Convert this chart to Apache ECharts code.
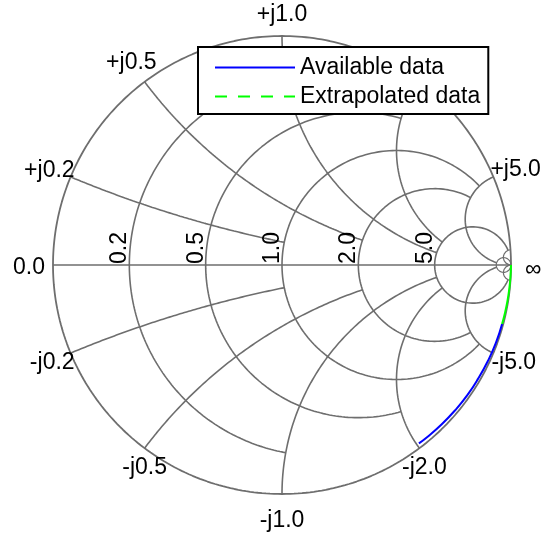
<!DOCTYPE html>
<html>
<head>
<meta charset="utf-8">
<script src="https://cdn.jsdelivr.net/npm/echarts@6/dist/echarts.min.js"></script>
<style>
  html, body { margin: 0; padding: 0; background: #ffffff; }
  #chart { width: 542px; height: 536px; }
</style>
</head>
<body>
<div id="chart"></div>
<script>
// Smith chart grid: each circle runs out to the paired limit of the other family
const resistanceValues = [0.2, 0.5, 1.0, 2.0, 5.0];
const resistanceLimits = [1.0, 2.0, 5.0, 5.0, 30];
const reactanceValues = [0.2, 0.5, 1.0, 2.0, 5.0];
const reactanceLimits = [1.0, 2.0, 5.0, 5.0, 30];
// Outermost limit circles drawn around the open-circuit point
const limitValue = 30;

// Reflection coefficient, magnitude and phase (degrees)
const availableMag      = [0.995, 0.994, 0.992, 0.990, 0.989, 0.987, 0.985, 0.983, 0.982];
const availablePhaseDeg = [-15.0, -20.0, -25.0, -30.0, -35.0, -40.0, -45.0, -50.0, -52.5];
const extrapolatedMag      = [1.000, 0.999, 0.998, 0.997, 0.996, 0.995];
const extrapolatedPhaseDeg = [0.0, -3.0, -6.0, -9.0, -12.0, -15.0];

const FONT = '"Liberation Sans", Arial, sans-serif';
const FONT_SIZE = 23;
const GRID_COLOR = '#6e6e6e';
const DASH = [12, 11];

function zToGamma(r, x) {
  const den = (r + 1) * (r + 1) + x * x;
  return [(r * r - 1 + x * x) / den, (2 * x) / den];
}

function resistanceCircle(r, xLimit) {
  const c = r / (1 + r), rho = 1 / (1 + r);
  let t0 = 0;
  if (isFinite(xLimit)) {
    const g = zToGamma(r, xLimit);
    t0 = Math.atan2(g[1], g[0] - c);
  }
  const t1 = 2 * Math.PI - t0;
  const n = 360, out = [];
  for (let i = 0; i <= n; i++) {
    const t = t0 + (t1 - t0) * i / n;
    out.push([c + rho * Math.cos(t), rho * Math.sin(t)]);
  }
  return out;
}

function reactanceArc(x, rLimit) {
  const cx = 1, cy = 1 / x, rho = 1 / Math.abs(x);
  const g0 = zToGamma(0, x);
  const g1 = isFinite(rLimit) ? zToGamma(rLimit, x) : [1, 0];
  const a0 = Math.atan2(g0[1] - cy, g0[0] - cx);
  const a1 = Math.atan2(g1[1] - cy, g1[0] - cx);
  let d = a1 - a0;
  while (d > Math.PI) d -= 2 * Math.PI;
  while (d <= -Math.PI) d += 2 * Math.PI;
  const n = 300, out = [];
  for (let i = 0; i <= n; i++) {
    const a = a0 + d * i / n;
    out.push([cx + rho * Math.cos(a), cy + rho * Math.sin(a)]);
  }
  return out;
}

function polarToXY(mag, phaseDeg) {
  return mag.map((m, i) => {
    const p = phaseDeg[i] * Math.PI / 180;
    return [m * Math.cos(p), m * Math.sin(p)];
  });
}

function gridSeries(data, width) {
  return {
    type: 'line', data: data, showSymbol: false, symbol: 'none', silent: true,
    clip: false, smooth: false, z: 2,
    lineStyle: { color: GRID_COLOR, width: width || 1.6 }
  };
}

const series = [];
series.push(gridSeries(resistanceCircle(0, Infinity), 1.8));
series.push(gridSeries([[-1, 0], [1, 0]]));
resistanceValues.forEach((r, i) => series.push(gridSeries(resistanceCircle(r, resistanceLimits[i]))));
reactanceValues.forEach((x, i) => {
  series.push(gridSeries(reactanceArc(x, reactanceLimits[i])));
  series.push(gridSeries(reactanceArc(-x, reactanceLimits[i])));
});
series.push(gridSeries(resistanceCircle(limitValue, Infinity), 1.2));
series.push(gridSeries(reactanceArc(limitValue, Infinity), 1.2));
series.push(gridSeries(reactanceArc(-limitValue, Infinity), 1.2));

series.push({
  name: 'Available data', type: 'line', data: polarToXY(availableMag, availablePhaseDeg),
  showSymbol: false, symbol: 'none', clip: false, z: 5, smooth: true,
  lineStyle: { color: '#0000ff', width: 2 }, itemStyle: { color: '#0000ff' }
});
// Densely sampled trace: the dash pattern fills in along the rim
series.push({
  name: 'Extrapolated data', type: 'line', data: polarToXY(extrapolatedMag, extrapolatedPhaseDeg),
  showSymbol: false, symbol: 'none', clip: false, z: 5, smooth: true,
  lineStyle: { color: '#00ff00', width: 2 }, itemStyle: { color: '#00ff00' }
});

const chart = echarts.init(document.getElementById('chart'));
chart.setOption({
  animation: false,
  backgroundColor: '#ffffff',
  grid: { left: 53, top: 36, width: 458, height: 458 },
  xAxis: { type: 'value', min: -1, max: 1, show: false },
  yAxis: { type: 'value', min: -1, max: 1, show: false },
  legend: {
    data: [
      { name: 'Available data' },
      { name: 'Extrapolated data', lineStyle: { type: DASH } }
    ],
    orient: 'vertical', left: 198, top: 47,
    backgroundColor: '#ffffff', borderColor: '#000000', borderWidth: 2, borderRadius: 0,
    padding: [9, 8, 6, 16], itemWidth: 80, itemHeight: 14, itemGap: 6,
    selectedMode: false, z: 10,
    itemStyle: { opacity: 0, borderWidth: 0 },
    lineStyle: { inherit: true },
    textStyle: { fontSize: FONT_SIZE, fontFamily: FONT, color: '#000000', lineHeight: 23 }
  },
  series: series
});

// Tick labels placed from the same scale as the grid
function px(g) { return chart.convertToPixel({ gridIndex: 0 }, g); }
const graphics = [];
function addText(text, g, dx, dy, align, vAlign, rotation) {
  const p = px(g);
  graphics.push({
    type: 'text', x: p[0] + dx, y: p[1] + dy, rotation: rotation ? rotation : 0, z: 3,
    style: { text: text, fill: '#000000', font: FONT_SIZE + 'px ' + FONT, align: align, verticalAlign: vAlign }
  });
}

// Resistance labels, rotated, just left of each circle on the real axis
resistanceValues.forEach(r => {
  addText(r.toFixed(1), [(r - 1) / (r + 1), 0], 2, -1, 'left', 'bottom', Math.PI / 2);
});
addText('0.0', [-1, 0], -8, 3, 'right', 'middle');
addText('\u221E', [1, 0], 14, 5, 'left', 'middle');

// Reactance labels around the rim
const rimPlacement = {
  0.2: { up: [4, 5, 'right', 'bottom'], down: [4, -2, 'right', 'top'] },
  0.5: { up: [12, -8, 'right', 'bottom'], down: [0, 8, 'center', 'top'] },
  1.0: { up: [0, -10, 'center', 'bottom'], down: [0, 15, 'center', 'top'] },
  2.0: { up: [0, -8, 'center', 'bottom'], down: [5, 8, 'center', 'top'] },
  5.0: { up: [-3, 4.5, 'left', 'bottom'], down: [-2, -2, 'left', 'top'] }
};
reactanceValues.forEach(x => {
  const pl = rimPlacement[x];
  const up = pl.up, dn = pl.down;
  addText('+j' + x.toFixed(1), zToGamma(0, x), up[0], up[1], up[2], up[3]);
  addText('-j' + x.toFixed(1), zToGamma(0, -x), dn[0], dn[1], dn[2], dn[3]);
});

chart.setOption({ graphic: graphics });
</script>
</body>
</html>
